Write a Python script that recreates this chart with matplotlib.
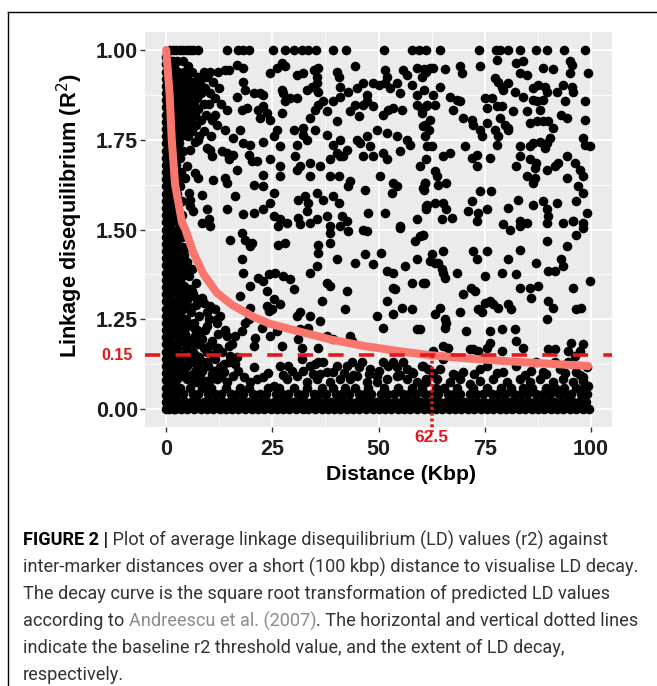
import matplotlib
matplotlib.use("Agg")
import matplotlib.pyplot as plt
from matplotlib.lines import Line2D
import matplotlib.transforms as mtransforms

# ---------------- data ----------------
x_ticks = [0, 25, 50, 75, 100]
x_tick_labels = ["0", "25", "50", "75", "100"]
y_ticks = [0.0, 0.25, 0.5, 0.75, 1.0]
y_tick_labels = ["0.00", "1.25", "1.50", "1.75", "1.00"]
threshold_r2 = 0.15
threshold_label = "0.15"
decay_distance = 62.5
decay_label = "62.5"

# fitted decay curve, read at points along the line
curve_x = [0, 0.8, 1.3, 2.1, 3.7, 4.5, 6.4, 8.8, 11.9, 15.5, 20.5, 24.5, 30.7, 38.6,
           46.4, 54.3, 62.1, 70.0, 79.4, 89.0, 99.4]
curve_y = [1.0, 0.875, 0.75, 0.625, 0.52, 0.50, 0.435, 0.375, 0.324, 0.29, 0.257, 0.237,
           0.218, 0.194, 0.176, 0.162, 0.150, 0.142, 0.134, 0.127, 0.120]

# points at r2 = 1.00
top_x = [0.8, 1.6, 2.4, 3.2, 4.0, 4.8, 5.6, 6.4, 7.4, 14.3, 17.0, 18.2, 19.4, 25.1, 28.0,
         30.0, 31.9, 33.5, 35.3, 39.4, 42.4, 51.3, 58.0, 59.6, 61.3, 64.5, 73.7, 77.6,
         78.6, 80.5, 83.3, 87.2, 89.6, 93.6, 98.6]
top_y = [1.0] * len(top_x)

# upper centre (15-62 kbp, r2 0.5-0.96)
uc_x = [16.6, 18.2, 24.5, 26.0, 27.2, 28.0, 30.7, 32.3, 34.7, 35.5, 35.8, 40.2, 40.6, 44.5,
        51.5, 51.9, 55.8, 56.6, 59.0, 60.2, 61.3,
        18.2, 18.6, 20.6, 22.1, 22.9, 27.2, 27.6, 29.2, 30.7, 33.1, 34.3, 35.5, 35.8, 41.0,
        41.0, 42.9, 44.9, 46.4, 47.2, 48.8, 50.0, 51.5, 52.7, 54.3, 55.1, 57.8, 59.0, 60.6,
        16.6, 17.8, 19.0, 21.7, 22.1, 22.9, 23.7, 24.5, 27.2, 28.0, 30.0, 32.3, 33.9, 35.1,
        35.8, 37.0, 37.8, 39.4, 40.2, 43.3, 44.5, 45.3, 46.4, 47.2, 48.8, 51.1, 52.3, 53.5,
        55.5, 59.0, 60.2, 61.3,
        15.8, 17.4, 18.2, 19.8, 22.9, 25.3, 26.0, 26.8, 30.7, 32.3, 33.1, 35.1, 37.8, 39.4,
        41.0, 42.5, 44.9, 45.6, 47.2, 48.0, 49.6, 51.9, 54.3, 56.6, 57.4, 60.5, 61.0,
        15.8, 19.4, 20.2, 21.3, 24.5, 26.8, 30.4, 31.5, 33.9, 36.2, 38.6, 40.2, 41.0, 41.7,
        46.4, 48.8, 51.1, 51.9, 55.1, 61.3,
        16.6, 22.9, 26.8, 30.7, 33.9, 38.6, 40.6, 43.3, 50.4, 53.5, 61.0,
        16.2, 20.6, 22.9, 25.3, 31.1, 32.7, 35.5, 37.0, 39.4, 40.6, 42.9, 46.8, 53.1, 54.3,
        60.6, 61.3,
        18.2, 20.6, 22.9, 24.5, 25.3, 26.8, 28.4, 31.1, 33.1, 33.5, 35.5, 37.8, 41.3, 42.5,
        47.6, 51.5, 55.1, 59.0, 61.3]
uc_y = [0.958, 0.949, 0.935, 0.949, 0.963, 0.954, 0.931, 0.935, 0.944, 0.926, 0.949, 0.940,
        0.926, 0.956, 0.944, 0.926, 0.944, 0.931, 0.949, 0.926, 0.940,
        0.912, 0.889, 0.880, 0.880, 0.875, 0.889, 0.880, 0.866, 0.866, 0.889, 0.898, 0.907,
        0.884, 0.898, 0.870, 0.884, 0.894, 0.907, 0.875, 0.907, 0.903, 0.907, 0.894, 0.907,
        0.880, 0.903, 0.875, 0.889,
        0.870, 0.833, 0.838, 0.833, 0.810, 0.843, 0.824, 0.806, 0.824, 0.857, 0.778, 0.782,
        0.810, 0.833, 0.847, 0.857, 0.829, 0.857, 0.801, 0.829, 0.847, 0.815, 0.847, 0.857,
        0.843, 0.820, 0.833, 0.838, 0.833, 0.847, 0.824, 0.843,
        0.755, 0.778, 0.741, 0.736, 0.745, 0.759, 0.778, 0.732, 0.736, 0.764, 0.750, 0.778,
        0.764, 0.736, 0.750, 0.722, 0.750, 0.741, 0.759, 0.732, 0.778, 0.769, 0.759, 0.750,
        0.736, 0.787, 0.759,
        0.708, 0.708, 0.690, 0.690, 0.695, 0.676, 0.704, 0.676, 0.685, 0.676, 0.695, 0.713,
        0.704, 0.704, 0.704, 0.704, 0.713, 0.695, 0.718, 0.695,
        0.667, 0.653, 0.648, 0.667, 0.648, 0.648, 0.648, 0.634, 0.648, 0.630, 0.630,
        0.593, 0.625, 0.620, 0.602, 0.583, 0.593, 0.602, 0.583, 0.593, 0.574, 0.620, 0.611,
        0.602, 0.620, 0.611, 0.565,
        0.542, 0.546, 0.556, 0.574, 0.537, 0.528, 0.519, 0.532, 0.551, 0.574, 0.528, 0.537,
        0.537, 0.523, 0.546, 0.546, 0.509, 0.528, 0.556]

# upper right (60-100 kbp, r2 0.5-0.97)
ur_x = [77.8, 82.5, 84.1, 95.1, 95.5, 60.6, 62.2, 62.9, 65.7, 69.2, 69.6, 73.9, 83.3, 84.9,
        88.8, 91.2, 95.1, 99.4, 77.4, 78.2, 79.0, 80.6, 79.4, 82.2, 86.5, 87.6, 89.2, 89.6,
        92.0, 93.5, 95.5, 95.9, 64.5, 62.9, 66.9, 68.4, 69.2, 75.1, 76.7, 84.1, 86.5, 87.3,
        88.8, 93.9, 98.6, 61.4, 60.2, 63.3, 67.6, 70.0, 72.0, 72.3, 75.5, 77.8, 79.0, 78.6,
        79.8, 80.6, 81.7, 84.9, 88.0, 85.6, 87.3, 88.8, 90.0, 91.2, 93.1, 94.3, 98.6, 62.2,
        61.0, 61.8, 73.9, 74.3, 75.5, 77.4, 78.2, 80.6, 77.8, 70.4, 61.4, 62.5, 65.3, 66.9,
        72.0, 73.1, 76.2, 83.3, 85.6, 86.4, 88.0, 89.6, 90.3, 89.2, 83.3, 94.3, 98.2, 98.6,
        99.8, 59.8, 63.3, 63.7, 61.0, 60.5, 64.1, 66.0, 73.1, 82.5, 85.6, 87.2, 86.8, 86.8,
        86.4, 89.6, 91.5, 92.3, 96.2, 97.4, 98.2, 94.3, 97.0, 84.9, 61.4, 63.3, 65.3, 66.0,
        67.2, 64.9, 71.1, 72.0, 73.5, 73.9, 75.5, 76.6, 80.6, 82.9, 83.3, 84.9, 86.4, 88.8,
        89.6, 90.0, 92.0, 93.5, 95.8, 98.2, 96.6, 98.2, 99.0, 79.4]
ur_y = [0.972, 0.963, 0.968, 0.968, 0.958, 0.946, 0.949, 0.949, 0.946, 0.954, 0.935, 0.954,
        0.935, 0.931, 0.949, 0.946, 0.935, 0.935, 0.921, 0.912, 0.898, 0.907, 0.889, 0.884,
        0.894, 0.903, 0.898, 0.884, 0.884, 0.903, 0.898, 0.884, 0.898, 0.875, 0.870, 0.861,
        0.857, 0.866, 0.866, 0.870, 0.861, 0.857, 0.861, 0.857, 0.857, 0.847, 0.833, 0.847,
        0.833, 0.810, 0.806, 0.792, 0.838, 0.843, 0.843, 0.810, 0.792, 0.782, 0.829, 0.829,
        0.833, 0.796, 0.801, 0.801, 0.801, 0.782, 0.820, 0.810, 0.806, 0.806, 0.792, 0.778,
        0.778, 0.759, 0.796, 0.778, 0.759, 0.778, 0.736, 0.732, 0.732, 0.732, 0.704, 0.713,
        0.699, 0.708, 0.699, 0.732, 0.732, 0.741, 0.745, 0.741, 0.755, 0.727, 0.704, 0.704,
        0.755, 0.736, 0.732, 0.676, 0.662, 0.648, 0.630, 0.616, 0.625, 0.630, 0.676, 0.676,
        0.695, 0.685, 0.671, 0.643, 0.630, 0.667, 0.676, 0.685, 0.685, 0.667, 0.648, 0.643,
        0.620, 0.648, 0.569, 0.574, 0.574, 0.556, 0.532, 0.528, 0.551, 0.579, 0.546, 0.606,
        0.556, 0.606, 0.560, 0.583, 0.523, 0.519, 0.569, 0.579, 0.556, 0.537, 0.574, 0.519,
        0.523, 0.519, 0.579, 0.602, 0.546, 0.514]

# middle band (15-62 kbp, r2 0.06-0.52)
mc_x = [15.1, 17.8, 18.6, 19.8, 20.2, 26.4, 26.4, 28.0, 31.5, 33.9, 35.8, 35.8, 38.6, 38.6,
        38.6, 40.2, 41.0, 42.9, 44.5, 46.4, 47.2, 46.8, 48.8, 50.7, 51.9, 53.5, 53.9, 55.1,
        56.2, 57.8, 58.6, 59.0, 59.8, 60.5, 61.0, 17.8, 18.2, 19.8, 21.7, 22.9, 23.7, 24.1,
        25.7, 27.6, 29.2, 30.0, 33.9, 35.5, 36.6, 37.8, 38.6, 42.5, 42.1, 23.7, 24.1, 24.9,
        26.8, 25.3, 19.8, 17.4, 18.6, 17.8, 16.2, 15.5, 19.4, 22.5, 21.0, 20.6, 24.5, 26.0,
        27.2, 30.7, 31.5, 31.5, 33.9, 33.5, 36.2, 35.8, 31.1, 31.9, 37.8, 39.4, 43.3, 43.7,
        49.6, 51.1, 53.5, 55.5, 57.8, 59.0, 51.9, 53.5,
        15.1, 16.2, 16.6, 20.6, 26.8, 28.8, 31.9, 32.3, 33.9, 35.1, 35.8, 37.0, 36.2, 37.8,
        39.4, 40.2, 42.5, 43.7, 45.3, 46.0, 48.0, 49.6, 51.1, 52.3, 53.5, 54.3, 55.8, 56.6,
        57.8, 60.5, 61.7,
        15.8, 19.8, 21.3, 22.9, 25.3, 28.4, 30.7, 33.1, 35.5, 38.6, 41.0, 43.3, 44.9, 47.2,
        49.6, 51.9, 54.3, 56.6, 59.0, 61.3,
        17.0, 18.4, 24.0, 27.5, 29.6, 34.5, 41.8, 44.0, 47.8, 50.2, 55.0, 58.2]
mc_y = [0.472, 0.491, 0.472, 0.454, 0.463, 0.509, 0.458, 0.463, 0.514, 0.519, 0.458, 0.435,
        0.509, 0.491, 0.463, 0.417, 0.509, 0.495, 0.407, 0.500, 0.495, 0.431, 0.403, 0.435,
        0.384, 0.380, 0.333, 0.505, 0.398, 0.352, 0.468, 0.417, 0.481, 0.486, 0.352, 0.417,
        0.380, 0.343, 0.366, 0.357, 0.329, 0.375, 0.380, 0.370, 0.361, 0.333, 0.380, 0.398,
        0.301, 0.352, 0.343, 0.329, 0.278, 0.287, 0.273, 0.278, 0.292, 0.306, 0.282, 0.315,
        0.241, 0.218, 0.204, 0.181, 0.250, 0.227, 0.199, 0.176, 0.204, 0.218, 0.176, 0.259,
        0.269, 0.222, 0.259, 0.227, 0.245, 0.171, 0.194, 0.171, 0.204, 0.194, 0.204, 0.190,
        0.259, 0.227, 0.264, 0.282, 0.278, 0.222, 0.301, 0.338,
        0.148, 0.125, 0.144, 0.116, 0.120, 0.120, 0.139, 0.107, 0.120, 0.125, 0.130, 0.130,
        0.097, 0.102, 0.102, 0.120, 0.120, 0.130, 0.116, 0.130, 0.111, 0.093, 0.130, 0.120,
        0.130, 0.116, 0.130, 0.111, 0.102, 0.120, 0.111,
        0.093, 0.074, 0.083, 0.088, 0.065, 0.083, 0.093, 0.074, 0.083, 0.074, 0.083, 0.083,
        0.093, 0.074, 0.074, 0.083, 0.093, 0.083, 0.074, 0.083,
        0.105, 0.090, 0.100, 0.095, 0.105, 0.098, 0.100, 0.095, 0.098, 0.105, 0.095, 0.100]

# lower right (60-100 kbp, r2 0.06-0.52)
lr_x = [60.5, 62.5, 62.1, 63.3, 64.1, 65.3, 64.9, 65.3, 65.6, 68.4, 72.3, 73.1, 75.5, 75.1,
        79.0, 80.5, 82.5, 83.3, 83.3, 85.6, 86.0, 87.6, 87.2, 89.6, 90.0, 91.5, 94.3, 93.1,
        93.5, 95.8, 99.8, 70.0, 71.9, 72.7, 73.5, 74.3, 75.1, 76.2, 77.0, 78.2, 80.5, 81.3,
        90.0, 91.1, 89.6, 96.6, 97.8, 63.3, 64.5, 65.6, 65.6, 66.0, 69.2, 70.7, 76.2, 79.0,
        82.1, 82.5, 76.2, 75.5, 71.5, 72.3, 73.5, 62.9, 65.3, 66.4, 79.0, 84.1, 90.0, 91.5,
        94.7, 95.4, 98.2, 59.8, 60.5, 73.1, 83.3, 89.6, 95.8, 98.2, 96.6, 80.9, 97.4, 96.2,
        65.3, 60.2, 64.5, 67.6, 70.0, 73.9, 75.5, 79.4, 82.5, 86.0, 87.2, 88.8, 91.5, 92.7,
        94.7, 96.6, 98.2, 99.0,
        61.3, 63.7, 66.8, 69.2, 71.5, 73.9, 77.0, 80.2, 83.3, 85.6, 88.0, 91.1, 93.5, 95.8,
        98.2, 99.4,
        62.8, 68.0, 72.5, 78.0, 84.5, 89.5, 94.0, 97.5]
lr_y = [0.486, 0.431, 0.412, 0.407, 0.407, 0.440, 0.389, 0.380, 0.366, 0.380, 0.440, 0.417,
        0.440, 0.370, 0.380, 0.417, 0.375, 0.444, 0.338, 0.338, 0.310, 0.343, 0.407, 0.468,
        0.384, 0.384, 0.454, 0.417, 0.398, 0.338, 0.357, 0.319, 0.338, 0.329, 0.278, 0.269,
        0.296, 0.301, 0.292, 0.282, 0.292, 0.278, 0.301, 0.282, 0.250, 0.278, 0.282, 0.264,
        0.282, 0.250, 0.227, 0.241, 0.269, 0.218, 0.218, 0.222, 0.222, 0.190, 0.185, 0.171,
        0.167, 0.167, 0.162, 0.162, 0.176, 0.171, 0.162, 0.171, 0.167, 0.167, 0.162, 0.185,
        0.181, 0.222, 0.352, 0.523, 0.509, 0.519, 0.523, 0.505, 0.486, 0.500, 0.162, 0.148,
        0.139, 0.120, 0.111, 0.097, 0.102, 0.111, 0.120, 0.102, 0.120, 0.107, 0.130, 0.102,
        0.130, 0.111, 0.130, 0.102, 0.088, 0.116,
        0.074, 0.083, 0.074, 0.083, 0.070, 0.079, 0.083, 0.074, 0.083, 0.074, 0.083, 0.074,
        0.083, 0.074, 0.079, 0.065,
        0.100, 0.095, 0.098, 0.100, 0.095, 0.098, 0.100, 0.095]

# dense upper-left block (1-15 kbp, r2 0.5-0.97)
ul_x = [1.5, 2.6, 4.0, 1.8, 5.2, 1.4, 2.8, 4.2, 6.0, 8.8, 10.4, 12.2, 2.2, 3.5, 5.0, 7.4,
        9.6, 1.5, 2.9, 4.4, 6.2, 8.0, 11.0, 2.1, 3.6, 5.3, 7.0, 9.2, 12.5, 1.4, 2.8, 4.5,
        6.1, 8.2, 10.2, 2.2, 3.7, 5.4, 7.3, 11.4, 1.5, 3.0, 4.6, 6.5, 8.8, 10.0, 12.8, 2.3,
        3.9, 5.6, 7.6, 1.5, 3.1, 4.8, 6.8, 9.4, 11.6, 2.3, 4.0, 5.9, 8.2, 10.8, 1.6, 3.2,
        4.9, 7.0, 12.0, 2.4, 4.1, 6.0, 9.0, 1.7, 3.4, 5.2, 7.8, 10.5, 13.9, 14.7, 13.9, 14.3,
        5.6, 6.8, 7.6, 9.6, 10.4, 10.7, 13.1, 14.3, 14.7, 4.9, 4.5, 6.8, 7.6, 11.1, 13.9,
        14.3, 5.3, 5.6, 8.4, 5.6, 6.4, 9.6, 10.0, 10.4, 8.4, 14.3,
        1.7, 3.0, 2.4, 4.0, 1.6, 3.2, 2.4, 1.7, 3.4, 2.5, 1.8, 3.3, 2.6, 1.8, 3.6, 2.6, 1.9,
        3.8, 2.8]
ul_y = [0.97, 0.97, 0.97, 0.955, 0.955, 0.94, 0.94, 0.94, 0.94, 0.94, 0.94, 0.94, 0.925,
        0.925, 0.925, 0.925, 0.925, 0.91, 0.91, 0.91, 0.91, 0.91, 0.91, 0.895, 0.895, 0.895,
        0.895, 0.895, 0.895, 0.88, 0.88, 0.88, 0.88, 0.88, 0.88, 0.865, 0.865, 0.865, 0.865,
        0.865, 0.85, 0.85, 0.85, 0.85, 0.85, 0.85, 0.85, 0.835, 0.835, 0.835, 0.835, 0.82,
        0.82, 0.82, 0.82, 0.82, 0.82, 0.805, 0.805, 0.805, 0.805, 0.805, 0.79, 0.79, 0.79,
        0.79, 0.79, 0.775, 0.775, 0.775, 0.775, 0.76, 0.76, 0.76, 0.76, 0.76, 0.944, 0.944,
        0.778, 0.833, 0.722, 0.745, 0.750, 0.727, 0.722, 0.704, 0.718, 0.713, 0.695, 0.676,
        0.643, 0.657, 0.643, 0.639, 0.643, 0.630, 0.602, 0.583, 0.597, 0.565, 0.551, 0.556,
        0.528, 0.509, 0.519, 0.556,
        0.74, 0.74, 0.72, 0.72, 0.70, 0.70, 0.68, 0.66, 0.66, 0.64, 0.62, 0.62, 0.60, 0.58,
        0.58, 0.56, 0.54, 0.54, 0.52]

# lower-left block (0-15 kbp, r2 0.07-0.5)
ll_x = [2.0, 3.3, 2.6, 1.9, 3.6, 5.0, 2.6, 1.9, 3.4, 4.8, 2.7, 6.0, 1.9, 3.8, 5.3, 2.8,
        7.0, 1.9, 4.3, 6.0, 3.0, 8.5, 2.0, 5.0, 7.0, 3.2, 9.5, 2.2, 4.6, 12.0, 3.3, 6.0,
        2.4, 8.0, 3.6, 5.5, 2.5, 9.0, 4.0, 6.8, 11.0, 2.6, 5.4, 8.6, 3.8, 7.0, 12.2,
        3.3, 2.9, 4.9, 3.3, 4.1, 5.6, 6.4, 4.9, 3.7, 7.2, 8.8, 1.7, 0.5, 3.3, 6.8, 9.6, 10.0,
        11.9, 12.7, 11.5, 10.4, 12.3, 14.3, 8.4, 6.4, 4.9, 10.0, 11.9, 14.7, 5.6, 7.6, 9.6,
        12.7, 14.7, 3.3, 2.5, 4.1, 6.4, 8.4, 10.7, 13.5, 4.9, 9.6, 11.9, 14.3,
        2.9, 4.0, 5.8, 7.8, 3.0, 4.4, 6.5, 9.2, 2.1, 3.3, 5.0, 7.8, 9.6, 11.5, 13.2, 2.2,
        6.0, 8.0, 10.5, 12.8, 1.8, 3.1,
        2.8, 3.8, 2.5, 4.2, 3.0, 4.6, 2.6, 3.6, 5.2, 2.6, 4.2, 6.6, 2.8, 5.0, 7.2, 4.6,
        6.2, 7.6, 10.8, 3.6, 6.4, 9.8, 2.8, 4.6, 7.0, 9.0, 11.2, 13.5, 12.2, 13.8]
ll_y = [0.49, 0.49, 0.47, 0.45, 0.45, 0.45, 0.43, 0.41, 0.41, 0.41, 0.39, 0.39, 0.37, 0.37,
        0.37, 0.35, 0.35, 0.33, 0.33, 0.33, 0.31, 0.31, 0.29, 0.29, 0.29, 0.27, 0.27, 0.25,
        0.25, 0.25, 0.23, 0.23, 0.21, 0.21, 0.19, 0.19, 0.17, 0.17, 0.15, 0.15, 0.15, 0.13,
        0.13, 0.13, 0.11, 0.11, 0.11,
        0.435, 0.407, 0.389, 0.357, 0.343, 0.333, 0.319, 0.306, 0.287, 0.306, 0.296, 0.259,
        0.259, 0.232, 0.222, 0.232, 0.250, 0.241, 0.259, 0.278, 0.287, 0.208, 0.204, 0.194,
        0.185, 0.181, 0.176, 0.171, 0.176, 0.139, 0.120, 0.130, 0.116, 0.130, 0.120, 0.139,
        0.102, 0.097, 0.107, 0.097, 0.102, 0.083, 0.079, 0.083, 0.074,
        0.30, 0.28, 0.27, 0.26, 0.20, 0.21, 0.20, 0.22, 0.16, 0.14, 0.12, 0.145, 0.16, 0.14,
        0.16, 0.08, 0.085, 0.09, 0.085, 0.09, 0.10, 0.09,
        0.50, 0.48, 0.44, 0.43, 0.38, 0.39, 0.34, 0.32, 0.31, 0.28, 0.25, 0.24, 0.22, 0.23,
        0.22, 0.17, 0.16, 0.18, 0.19, 0.12, 0.13, 0.12, 0.095, 0.095, 0.075, 0.07, 0.105,
        0.125, 0.17, 0.22]

# near-zero distance column (x ~ 0, ~0.9 and ~1.8 kbp)
col0_y = [0.00, 0.02, 0.04, 0.06, 0.08, 0.10, 0.12, 0.14, 0.16, 0.18, 0.20, 0.22, 0.24,
          0.26, 0.28, 0.30, 0.32, 0.34, 0.36, 0.38, 0.40, 0.42, 0.44, 0.46, 0.48, 0.50,
          0.52, 0.54, 0.56, 0.58, 0.60, 0.62, 0.64, 0.66, 0.68, 0.70, 0.72, 0.74, 0.76,
          0.78, 0.80, 0.82, 0.84, 0.86, 0.88, 0.90, 0.92, 0.94, 0.96, 0.98]
col1_y = [0.01, 0.03, 0.05, 0.07, 0.09, 0.11, 0.13, 0.15, 0.17, 0.19, 0.21, 0.23, 0.25,
          0.27, 0.29, 0.31, 0.33, 0.35, 0.37, 0.39, 0.41, 0.43, 0.45, 0.47, 0.49, 0.51,
          0.53, 0.55, 0.57, 0.59, 0.61, 0.63, 0.65, 0.67, 0.69, 0.71, 0.73, 0.75, 0.77,
          0.79, 0.81, 0.83, 0.85, 0.87, 0.89, 0.91, 0.93, 0.95, 0.97]
col2_y = [0.00, 0.03, 0.06, 0.09, 0.12, 0.15, 0.18, 0.21, 0.24, 0.27, 0.30, 0.33, 0.36,
          0.39, 0.42, 0.45, 0.48]
col_x = [0.0, 0.9, 1.8]

# dense band of near-zero r2 across all distances, four rows
band_rows_y = [0.0, 0.021, 0.041, 0.060]
band_row0_x = [0.6, 2.1, 3.5, 5.0, 6.6, 8.1, 9.5, 11.0, 12.6, 14.1, 15.5, 17.0, 18.6, 20.1,
               21.5, 23.0, 24.6, 26.1, 27.5, 29.0, 30.6, 32.1, 33.5, 35.0, 36.6, 38.1, 39.5,
               41.0, 42.6, 44.1, 45.5, 47.0, 48.6, 50.1, 51.5, 53.0, 54.6, 56.1, 57.5, 59.0,
               60.6, 62.1, 63.5, 65.0, 66.6, 68.1, 69.5, 71.0, 72.6, 74.1, 75.5, 77.0, 78.6,
               80.1, 81.5, 83.0, 84.6, 86.1, 87.5, 89.0, 90.6, 92.1, 93.5, 95.0, 96.6, 98.1,
               99.5]
band_row1_x = [1.3, 2.8, 4.4, 5.8, 7.3, 8.9, 10.3, 11.8, 13.4, 14.8, 16.3, 17.9, 19.3, 20.8,
               22.4, 23.8, 25.3, 26.9, 28.3, 29.8, 31.4, 32.8, 34.3, 35.9, 37.3, 38.8, 40.4,
               41.8, 43.3, 44.9, 46.3, 47.8, 49.4, 50.8, 52.3, 53.9, 55.3, 56.8, 58.4, 59.8,
               61.3, 62.9, 64.3, 65.8, 67.4, 68.8, 70.3, 71.9, 73.3, 74.8, 76.4, 77.8, 79.3,
               80.9, 82.3, 83.8, 85.4, 86.8, 88.3, 89.9, 91.3, 92.8, 94.4, 95.8, 97.3, 98.9]
band_row2_x = [0.4, 2.5, 4.0, 6.2, 7.6, 9.9, 11.4, 13.0, 15.2, 16.6, 18.1, 20.5, 22.0, 23.4,
               25.8, 27.2, 28.8, 31.0, 32.5, 34.7, 36.1, 37.6, 40.0, 41.4, 43.0, 45.3, 46.8,
               48.2, 50.5, 52.0, 53.6, 55.8, 57.2, 58.9, 61.0, 62.6, 64.1, 66.3, 67.8, 69.2,
               71.5, 73.0, 74.6, 76.8, 78.2, 79.9, 82.0, 83.5, 85.0, 87.2, 88.7, 90.3, 92.5,
               94.0, 95.4, 97.6, 99.1]
band_row3_x = [1.0, 3.2, 5.5, 8.5, 10.6, 14.0, 17.3, 19.5, 24.0, 26.5, 30.0, 33.2, 36.8,
               39.2, 42.2, 44.5, 47.5, 51.2, 54.5, 57.8, 60.2, 63.5, 65.5, 68.5, 72.2, 75.6,
               78.9, 81.2, 84.0, 86.2, 89.5, 91.6, 93.8, 96.5, 98.4]

caption_lines = [
    ["FIGURE 2 |", " Plot of average linkage disequilibrium (LD) values (r2) against"],
    ["inter-marker distances over a short (100 kbp) distance to visualise LD decay."],
    ["The decay curve is the square root transformation of predicted LD values"],
    ["according to ", "Andreescu et al. (2007)", ". The horizontal and vertical dotted lines"],
    ["indicate the baseline r2 threshold value, and the extent of LD decay,"],
    ["respectively."],
]

# ---------------- styling ----------------
W, H = 657, 686
RED = "#E3171C"
CURVE = "#F8766D"
TXT = "#1E1E1E"
FONT = ["Liberation Sans", "DejaVu Sans"]

fig = plt.figure(figsize=(W / 100, H / 100), dpi=100)
fig.patch.set_facecolor("white")

L, R, T, B = 145, 612, 32, 427
ax = fig.add_axes([L / W, 1 - B / H, (R - L) / W, (B - T) / H])
ax.set_facecolor("#EBEBEB")
ax.set_xlim(-5, 105)
ax.set_ylim(-0.05, 1.05)
for s in ax.spines.values():
    s.set_visible(False)

ax.set_xticks(x_ticks)
ax.set_xticklabels(x_tick_labels)
ax.set_yticks(y_ticks)
ax.set_yticklabels(y_tick_labels)
ax.set_xticks([12.5, 37.5, 62.5, 87.5], minor=True)
ax.set_yticks([0.125, 0.375, 0.625, 0.875], minor=True)
ax.grid(which="major", color="white", lw=1.3)
ax.grid(which="minor", color="white", lw=0.6)
ax.set_axisbelow(True)
ax.tick_params(which="major", length=3.5, width=1.0, color="#333333", pad=1.5,
               labelsize=15.5, labelcolor=TXT)
ax.tick_params(which="minor", length=0)
ax.tick_params(axis="x", pad=5)
for lab in ax.get_xticklabels() + ax.get_yticklabels():
    lab.set_fontfamily(FONT)
    lab.set_fontweight("bold")

# points
pt = dict(s=48, c="black", linewidths=0, zorder=2)
ax.scatter(top_x, top_y, **pt)
ax.scatter(uc_x, uc_y, **pt)
ax.scatter(ur_x, ur_y, **pt)
ax.scatter(mc_x, mc_y, **pt)
ax.scatter(lr_x, lr_y, **pt)
ax.scatter(ul_x, ul_y, **pt)
ax.scatter(ll_x, ll_y, **pt)
ax.scatter([col_x[0]] * len(col0_y), col0_y, **pt)
ax.scatter([col_x[1]] * len(col1_y), col1_y, **pt)
ax.scatter([col_x[2]] * len(col2_y), col2_y, **pt)
for ry, rx in zip(band_rows_y, [band_row0_x, band_row1_x, band_row2_x, band_row3_x]):
    ax.scatter(rx, [ry] * len(rx), **pt)

# decay curve
ax.plot(curve_x, curve_y, color=CURVE, lw=5.8, solid_capstyle="round", zorder=4)

# threshold line and decay extent
lw_d = 2.6
ax.axhline(threshold_r2, color=RED, lw=lw_d, dashes=(11 / lw_d, 11 / lw_d), zorder=5)
ax.plot([decay_distance, decay_distance], [threshold_r2, -0.065], color=RED, lw=2.6,
        ls=(0, (0.8, 0.8)), clip_on=False, zorder=5)

trans_y = mtransforms.blended_transform_factory(ax.transAxes, ax.transData)
ax.text(-0.026, threshold_r2, threshold_label, transform=trans_y, ha="right", va="center",
        color=RED, fontsize=11.5, fontweight="bold", family=FONT)
ax.text(decay_distance, -0.078, decay_label, ha="center", va="center", color=RED,
        fontsize=12.5, fontweight="bold", family=FONT, clip_on=False)

# axis titles
fig.text(401 / W, 1 - 474 / H, "Distance (Kbp)", ha="center", va="center",
         fontsize=15.3, fontweight="bold", color="black", family=FONT)
fig.text(70 / W, 1 - 216 / H, r"Linkage disequilibrium (R$^2$)", ha="center", va="center",
         rotation=90, fontsize=15.7, fontweight="bold", color="black", family=FONT)

# border of the figure frame (top and left)
fig.add_artist(Line2D([8 / W, 1], [1 - 12 / H, 1 - 12 / H], transform=fig.transFigure,
                      color="black", lw=1.0))
fig.add_artist(Line2D([8 / W, 8 / W], [0, 1 - 12 / H], transform=fig.transFigure,
                      color="black", lw=1.0))

# caption
renderer = fig.canvas.get_renderer()
cap_font = ["Roboto", "Liberation Sans", "DejaVu Sans"]
probe = fig.text(0, 0, caption_lines[1][0], fontsize=10, family=cap_font)
w10 = probe.get_window_extent(renderer).width
probe.remove()
cap_size = 10 * 615 / w10
line_y = [540, 567, 594, 621, 648, 675]
for li, pieces in enumerate(caption_lines):
    xpx = 23
    for pi, piece in enumerate(pieces):
        kw = dict(fontsize=cap_size, family=cap_font, color="#333333", va="center",
                  ha="left")
        if li == 0 and pi == 0:
            kw.update(color="black", fontweight="bold")
        if li == 3 and pi == 1:
            kw.update(color="#8C8C8C")
        t = fig.text(xpx / W, 1 - line_y[li] / H, piece, **kw)
        xpx += t.get_window_extent(renderer).width

fig.savefig("out.png", dpi=100, facecolor="white")
